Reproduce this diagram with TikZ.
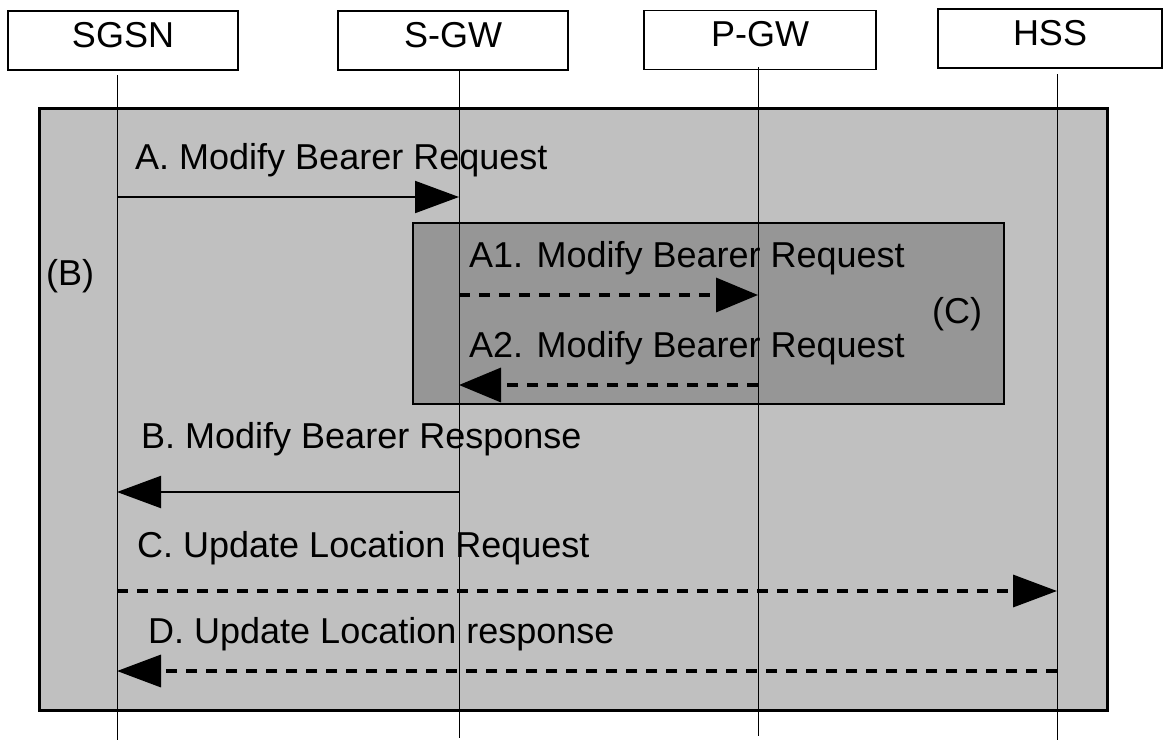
\documentclass[tikz,border=0pt]{standalone}
\usepackage{fontspec}
\setmainfont{Liberation Sans}
\usetikzlibrary{arrows.meta}
\definecolor{outergray}{HTML}{C0C0C0}
\definecolor{innergray}{HTML}{969696}

\begin{document}
\begin{tikzpicture}[x=1pt,y=-1pt,font=\fontsize{36}{43}\selectfont,
  entity/.style={draw,line width=1.8pt,minimum height=59pt,inner sep=0pt,
    text height=25pt,text depth=12pt},
  region/.style={draw,inner sep=0pt},
  life/.style={line width=0.9pt},
  lbl/.style={anchor=base west,inner sep=0pt},
  msg/.style={line width=2pt,-{Triangle[length=44pt,width=32pt]}},
  dmsg/.style={msg,line width=3.5pt,dash pattern=on 11pt off 9pt}]
  \useasboundingbox (0,0) rectangle (1164,740);

  % entities
  \node[entity,minimum width=230pt] (sgsn) at (123,40.5) {SGSN};
  \node[entity,minimum width=230pt] (sgw) at (453,40.5) {S-GW};
  \node[entity,minimum width=232pt] (pgw) at (760,40) {P-GW};
  \node[entity,minimum width=224pt] (hss) at (1050,38.5) {HSS};

  % grouping boxes
  \node[region,line width=3pt,fill=outergray,minimum width=1068pt,
    minimum height=602pt] (grpB) at (573,409) {};
  \node[region,line width=2pt,fill=innergray,minimum width=591pt,
    minimum height=181pt] (grpC) at (708.5,313.5) {};

  % lifelines
  \foreach \n/\x/\t/\b in {sgsn/117/75/740,sgw/459/70/738,
                           pgw/758/67/736,hss/1057/74/740}{
    \coordinate (\n-top) at (\x,\t);
    \coordinate (\n-bot) at (\x,\b);
    \draw[life] (\n-top) -- (\n-bot);
  }

  % message rows
  \coordinate (rowA) at (0,197);
  \coordinate (rowA1) at (0,295);
  \coordinate (rowA2) at (0,385);
  \coordinate (rowB) at (0,492);
  \coordinate (rowC) at (0,591);
  \coordinate (rowD) at (0,671);

  \node[lbl] (labA) at (135,169) {A. Modify Bearer Request};
  \draw[msg] (sgsn-top |- rowA) -- (sgw-top |- rowA);

  \node[lbl] (labB) at (46,285) {(B)};
  \node[lbl] (labC) at (932,323) {(C)};

  \node[lbl] (labA1) at (469,267) {A1. Modify Bearer Request};
  \draw[dmsg,-{Triangle[length=42pt,width=34pt]}]
    (sgw-top |- rowA1) -- (pgw-top |- rowA1);
  \node[lbl] (labA2) at (469,357) {A2. Modify Bearer Request};
  \draw[dmsg,-{Triangle[length=42pt,width=34pt]}]
    (pgw-top |- rowA2) -- (sgw-top |- rowA2);

  \node[lbl] (labRsp) at (141,448) {B. Modify Bearer Response};
  \draw[msg] (sgw-top |- rowB) -- (sgsn-top |- rowB);

  \node[lbl] (labUlr) at (137,557) {C. Update Location Request};
  \draw[dmsg] (sgsn-top |- rowC) -- (hss-top |- rowC);

  \node[lbl] (labUla) at (148,643) {D. Update Location response};
  \draw[dmsg] (hss-top |- rowD) -- (sgsn-top |- rowD);
\end{tikzpicture}
\end{document}
